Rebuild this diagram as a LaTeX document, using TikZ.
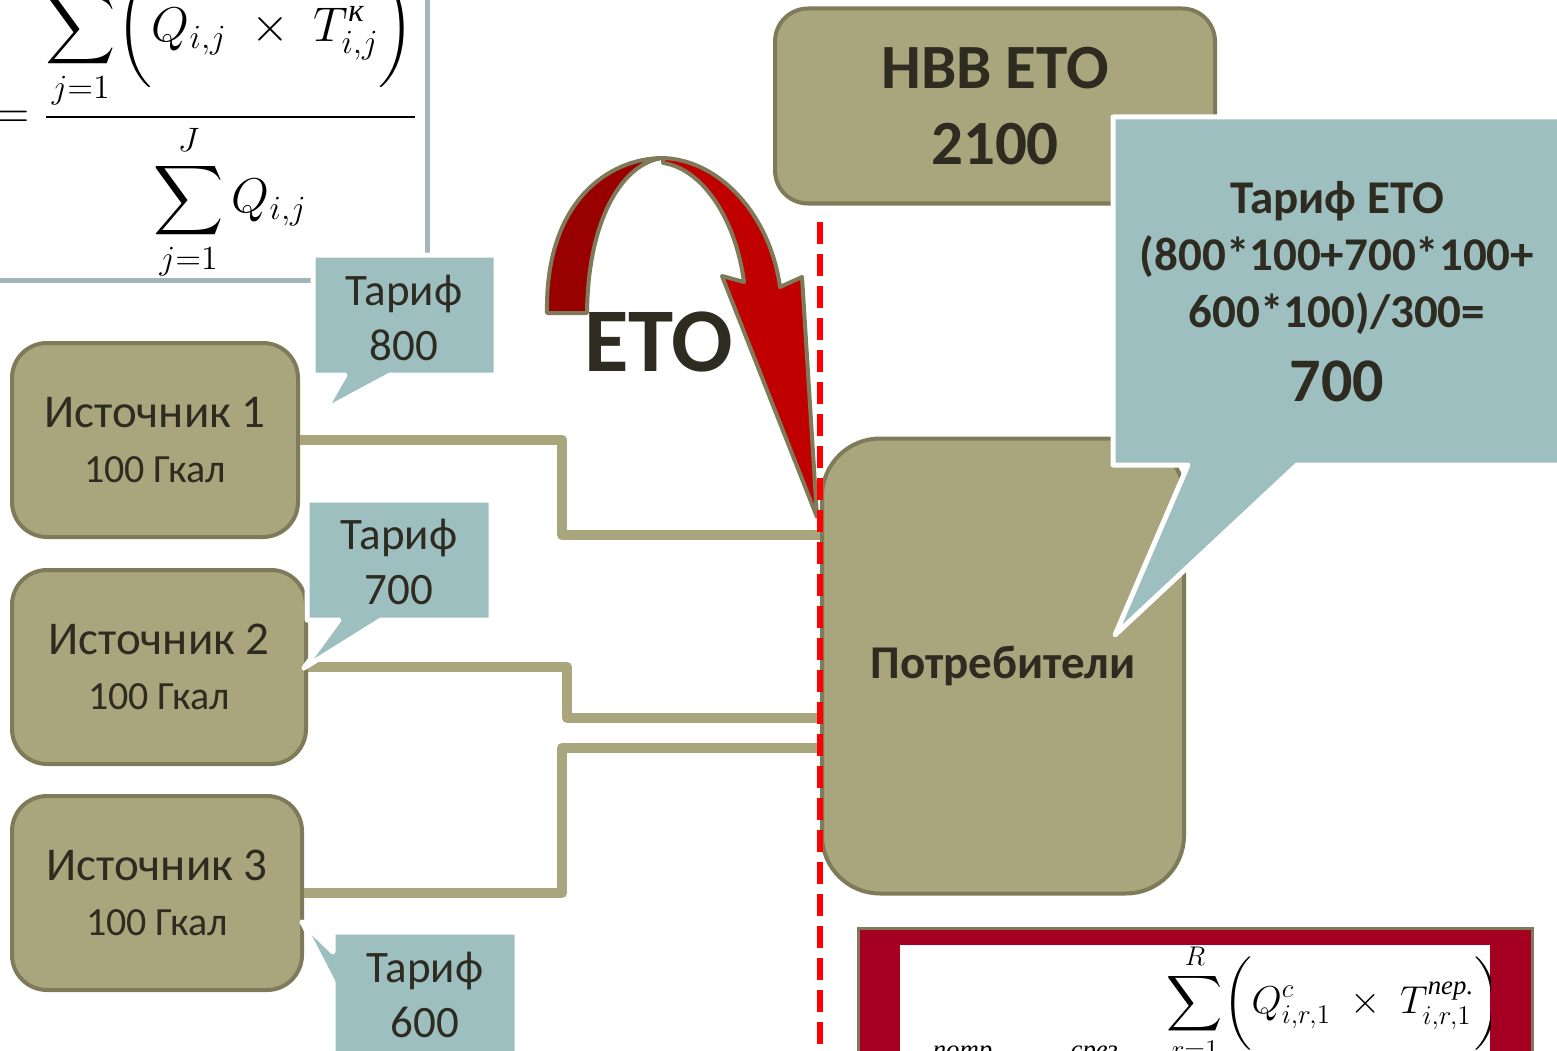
\documentclass[tikz,border=0pt]{standalone}
\usepackage{amsmath}
\usepackage{graphicx}
\usepackage{fontspec}
\setmainfont{Carlito}
\newfontfamily\cyrserif{Liberation Serif}
\usetikzlibrary{positioning}

\definecolor{boxfill}{HTML}{A9A57C}
\definecolor{boxline}{HTML}{7F7B5A}
\definecolor{bubblefill}{HTML}{9DBFBF}
\definecolor{textdark}{HTML}{2E2B21}
\definecolor{etodark}{HTML}{990000}
\definecolor{etobright}{HTML}{C00000}
\definecolor{framered}{HTML}{A50021}
\definecolor{fmlframe}{HTML}{A3B5BA}

\newcommand{\cyrit}[1]{\text{\cyrserif\itshape #1}}
\newcommand{\bigsum}{\displaystyle\sum\limits}

\begin{document}
\begin{tikzpicture}[x=1pt, y=-1pt,
    srcbox/.style={rectangle, draw=boxline, fill=boxfill, line width=4pt, rounded corners=35pt, minimum height=194pt, align=center, text=textdark, font=\fontsize{47}{55}\selectfont},
    bigbox/.style={rectangle, draw=boxline, fill=boxfill, line width=4pt, align=center, text=textdark, font=\bfseries\fontsize{63}{76}\selectfont},
    bubble/.style={fill=bubblefill, draw=white, line width=5pt, line join=round},
    bubtext/.style={align=center, text=textdark, inner sep=0pt, font=\fontsize{45}{55}\selectfont},
    pipe/.style={draw=boxfill, line width=10pt, line join=round},
    etoband/.style={draw=boxline, line width=4pt, line join=round},
    cutline/.style={draw=red, line width=6pt, dash pattern=on 22pt off 10pt}
]
\useasboundingbox (0,0) rectangle (1557,1051);
\clip (0,0) rectangle (1557,1051);
\fill[white] (0,0) rectangle (1557,1051);

% formula, top left
\node[anchor=base west, inner sep=0pt] (fmlA) at (-6,129)
    {\scalebox{2.35}{\fontsize{20}{24}\selectfont$\displaystyle = \frac{\bigsum_{j=1}^{J}\biggl(Q_{i,j}\;\times\;T^{\cyrit{к}}_{i,j}\biggr)}{\bigsum_{j=1}^{J}Q_{i,j}}$}};
\draw[fmlframe, line width=5pt] (-10,280) -- (427,280) -- (427,-10);

% sources and consumers
\node[srcbox, minimum width=286pt] (src1) at (155,440) {Источник 1\\{\fontsize{40}{48}\selectfont 100 Гкал}};
\node[srcbox, minimum width=294pt] (src2) at (159,667) {Источник 2\\{\fontsize{40}{48}\selectfont 100 Гкал}};
\node[srcbox, minimum width=290pt] (src3) at (157,893) {Источник 3\\{\fontsize{40}{48}\selectfont 100 Гкал}};
\node[bigbox, minimum width=440pt, minimum height=195pt, rounded corners=33pt] (nvv) at (995,106) {НВВ ЕТО\\2100};
\node[bigbox, minimum width=362pt, minimum height=455pt, rounded corners=58pt, font=\bfseries\fontsize{47}{55}\selectfont] (cons) at (1003,666) {Потребители};

\draw[pipe] (src1.east) -- ++(262,0) |- (cons.west |- 0,535);
\draw[pipe] (src2.east) -- ++(259,0) |- (cons.west |- 0,718);
\draw[pipe] (src3.east) -- ++(258,0) |- (cons.west |- 0,748);

% tariff bubbles
\path[bubble] (313,255) -- (496,255) -- (496,375) -- (390,375) -- (325,410) -- (345,375) -- (313,375) -- cycle;
\node[bubtext] (t800) at (404,318) {Тариф\\800};
\path[bubble] (307,500) -- (491,500) -- (491,620) -- (381,620) -- (304,668) -- (339,620) -- (307,620) -- cycle;
\node[bubtext] (t700) at (399,562) {Тариф\\700};
\path[bubble] (333,932) -- (517,932) -- (517,1080) -- (333,1080) -- (333,982) -- (302,922) -- (333,952) -- cycle;
\node[bubtext] (t600) at (425,995) {Тариф\\600};
\path[bubble] (1113,117) -- (1575,117) -- (1575,465) -- (1297,465) -- (1115,635) -- (1188,465) -- (1113,465) -- cycle;
\node[bubtext, anchor=north, font=\bfseries\fontsize{47}{57}\selectfont] (teto) at (1337,181)
    {Тариф ЕТО\\(800*100+700*100+\\600*100)/300=\\[17pt]{\fontsize{62}{70}\selectfont 700}};

% ETO arrow
\path[etoband, fill=etodark] (547,313) .. controls (545,200) and (610,158) .. (663,158)
    .. controls (625,162) and (588,215) .. (587,313) -- cycle;
\path[etoband, fill=etobright] (663,158) .. controls (720,160) and (770,215) .. (780,287)
    -- (802,277) -- (817,517) -- (722,276) -- (744,282)
    .. controls (735,215) and (700,168) .. (663,163) -- cycle;
\node[text=textdark, inner sep=0pt, font=\bfseries\fontsize{91}{100}\selectfont] (eto) at (659,342) {ЕТО};

\coordinate (cutTop) at (820,222);
\coordinate (cutBot) at (820,1060);
\draw[cutline] (cutTop) -- (cutBot);

% formula, bottom right
\path[draw=boxline, fill=framered, line width=3pt] (858,928) rectangle (1532,1070);
\fill[white] (900,945) rectangle (1490,1070);
\begin{scope}
\clip (900,945) rectangle (1490,1070);
\node[anchor=base west, inner sep=0pt] (fmlB) at (905,1078)
    {\scalebox{2.25}{\fontsize{17}{20}\selectfont$\displaystyle T^{\cyrit{потр}}_{i,1} = T^{\cyrit{срез}}_{i,1} + \frac{\bigsum_{r=1}^{R}\biggl(Q^{c}_{i,r,1}\;\times\;T^{\cyrit{пер.}}_{i,r,1}\biggr)}{\bigsum_{r=1}^{R}Q^{c}_{i,r,1}}$}};
\end{scope}
\end{tikzpicture}
\end{document}
